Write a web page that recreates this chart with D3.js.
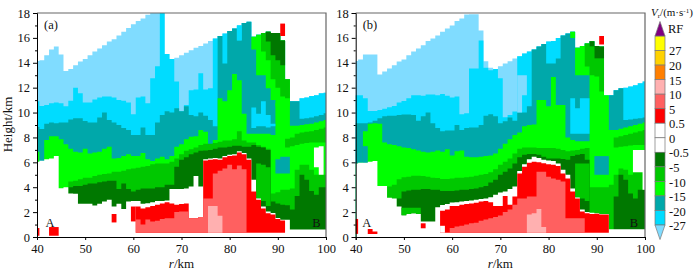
<!DOCTYPE html>
<html lang="en">
<head>
  <meta charset="UTF-8">
  <title>Vr cross sections</title>
  <style>
    html, body { margin: 0; background: #fff; }
    text { font-family: "Liberation Serif", serif; fill: #111; }
  </style>
</head>
<body>
  <script src="https://d3js.org/d3.v7.min.js"></script>
  <script>
    // every profile below runs r = 40..100 km, one value per km, heights in km
    const aTop = [14.15,14.2,14.6,15.07,15.3,14.67,13.33,13.5,13.8,14.1,
      14.3,14.6,14.9,15.15,15.4,15.7,15.9,16.2,16.5,16.8,
      17.1,17.35,17.55,17.85,18,18,18,14.7,14.3,14.4,
      14.6,14.8,15,15.2,15.35,15.55,15.75,15.95,16.15,16.35,
      16.55,16.75,17,17.2,17.3,16.1,16.25,16.4,16.5,16.4,
      16.4,15.8,12.67,10.9,10.9,11.15,11.2,11.33,11.4,11.55,11.6]
    const aCyan = [10.9,10.53,10.6,10.75,10.8,10.75,10.5,10.95,12,11.55,
      10.8,10.8,11.05,11.2,11.3,11.3,11.2,11,10.95,10.8,
      9.87,11.2,11.3,10.75,12.75,13.73,18,14.7,14.3,12.5,
      10.1,10.6,11.8,11.85,13.15,11.85,11.95,15.95,16.15,16.35,
      16.55,16.75,17,17.2,17.3,16.1,16.25,16.4,16.5,16.4,
      16.4,15.8,12.67,10.9,10.9,11.15,11.2,11.33,11.4,11.55,11.6]
    const aTeal = [8.83,8.67,9.1,9.2,9.15,9.2,9.2,9.45,9.55,9.55,
      9.33,9.2,9.2,9.6,10,9.4,9.2,9,8.75,8.6,
      8.2,8.2,8.8,8.2,8.2,9.2,9.8,10.1,10,10.35,
      10.1,10.5,9.8,9.7,10,9.75,9.4,8.9,16.15,13.95,
      16.55,16.75,15.8,17.2,17.3,16.1,16.25,16.4,16.5,16.4,
      16.4,15.8,12.67,10.9,10.9,9.5,9.55,9.6,9.7,9.8,9.95]
    const aLime = [6.85,6.05,7.8,8.1,8.1,7.85,7.45,7.1,6.85,6.8,
      7.1,6.7,6.8,6.85,7.1,7.25,6.3,6.35,6.5,6.65,
      6.5,6.5,6.75,6.25,6.1,6.3,6.45,6.25,6.5,7.25,
      7.45,7.85,8.05,8.1,8.6,8.45,7.4,7.8,11.15,10.9,
      11.8,13.1,12.6,9.9,8.3,8.3,8.3,8.3,8.3,8.2,
      10.75,11,11.1,8.93,8.93,9,9.07,9.1,9.2,9.3,9.4]
    const aGreen = [0,0,0,0,0,0,0,4.45,4.53,4.65,
      4.77,4.77,4.9,5,5.07,5.1,5.25,5.25,5.33,5.45,
      5.5,5.57,5.65,5.7,5.85,5.9,5.9,5.9,6.05,6.3,
      6.65,6.93,7.05,7.2,7.4,7.5,7.5,7.55,7.65,7.75,
      7.75,7.85,8.5,7.75,7.6,7.6,7.4,7.25,7.1,3.5,
      3.6,3.8,3.8,3.9,5.4,5.8,5.8,5.4,5,5.1,5]
    const aDark = [0,0,0,0,0,0,0,4,4.1,4.1,
      4.2,4.3,4.3,4.4,4.45,4.53,4.53,3.85,4.3,3.85,
      3.65,3.8,3.9,3.9,3.9,4,4,4.2,4.2,5.65,
      6.2,6.4,6.65,6.8,6.93,6.95,7,7.1,7.2,7.2,
      7.25,7.33,7.33,7.25,7.25,7.4,7.25,7.2,7,2.85,
      2.7,2.6,2.55,2.2,3.3,5,4.6,3.7,3.4,4,4]
    const aGap = [6.05,6.13,6.25,6.3,6.5,3.92,4,3.5,3.47,2.67,
      2.67,2.67,2.53,2.67,2.85,3,2.45,2.67,2.25,2.85,
      2.9,2.9,2.67,2.72,2.8,2.9,2.9,2.93,3.85,3.85,
      3.85,3.9,4.05,4.9,4.05,6.25,6.3,6.35,6.3,6.5,
      6.6,6.65,6.9,6.75,6.3,4.6,3.12,2.45,2.05,1.92,
      1.52,1.39,1.39,0.6,0.6,0.6,0.6,0.6,0.6,0.6,0.6]

    const bTop = [14.15,14.27,14.67,14.67,14.67,13.05,13.3,13.55,13.8,14.1,
      14.27,14.6,14.9,15.15,15.4,15.75,15.95,16.2,16.5,16.75,
      17,17.35,17.55,17.87,17.9,17.9,16.6,14.13,13.6,13.5,
      13.73,13.95,14.13,14.35,14.53,14.75,14.9,15.07,15.3,15.5,
      15.7,15.75,16,16.2,16.35,16.5,15.2,15.35,15.55,15.73,
      15.35,15.3,11.4,11.4,11.8,11.95,12,12.1,12.2,12.35,12.5]
    const bCyan = [11.4,11.4,11.15,10.13,10.13,10.2,10.3,10.43,10.53,10.8,
      10.93,11.15,11.4,11.4,11.35,11.45,11.45,11.4,11.5,11.35,
      11.2,11.3,9.87,9.95,13.55,13.55,15.8,13.6,13.4,13.5,
      12.75,9.63,9.8,10.08,14.53,14.75,14.9,15.07,15.3,15.5,
      15.7,15.75,16,16.2,16.35,16.5,15.2,15.35,15.55,15.73,
      15.35,15.3,11.4,11.4,11.8,11.95,12,12.1,12.2,12.35,12.5]
    const bTeal = [9.15,9.15,9.15,9.2,9.35,9.55,9.7,9.75,9.75,9.8,
      9.85,9.85,9.8,9.35,9.7,10,9.15,8.75,8.5,8.55,
      8.55,9,8.6,8.75,8.8,8.8,9,9.75,9.87,9.7,
      9.15,9.3,9.6,9.35,10,10,10.5,15.07,15.3,15.5,
      13.95,13.95,14.35,16.2,16.35,16.5,15.2,15.35,15.55,15.73,
      11,11,11,11.4,11.8,11.95,9.4,9.45,9.5,9.55,9.6]
    const bLime = [5.9,5.97,8.5,9.1,9.15,9.1,7.6,7.45,7.4,7.3,
      7.2,7.15,7.05,6.95,6.85,6.8,6.85,6.95,6.85,7.05,
      6.55,6.9,6.95,6.45,6.4,6.4,6.45,6.5,6.55,6.7,
      7.1,7.5,7.85,8.2,8.4,8.9,9,9.05,11,11,
      10.5,12.85,10.6,10.6,8,7.8,7.7,7.7,7.7,15.73,
      15.35,15.3,11.4,8.6,8.6,8.7,8.8,8.9,9,9.1,9.2]
    const bGreen = [0,0,0,0,0,0,0,4.05,4.2,4.65,
      4.8,4.85,4.93,4.93,4.9,4.85,4.77,4.75,4.67,4.67,
      4.7,4.77,4.77,4.8,4.85,4.93,5,5.07,5.2,5.45,
      5.8,6.05,6.3,6.7,7.1,7.2,7.2,7.2,7.15,7.15,
      7.15,7.15,7.1,7,6.9,6.95,7,7.1,7.15,4,
      4,4,4,4.2,5,5.5,5.4,5,5.2,5.2,3.8]
    const bDark = [0,0,0,0,0,0,0,0,0,3.1,
      3.65,3.73,3.8,3.8,3.85,3.85,3.8,3.8,3.7,3.7,
      3.7,3.73,3.8,3.8,3.85,3.9,4,4.1,4.37,4.6,
      5,5.25,5.5,5.9,6.4,6.6,6.67,6.67,6.6,6.45,
      6.3,6.3,6.3,6.27,6.2,6.5,6.6,6.67,6.2,0,
      0,0,0,0,3.25,5,4.6,3.5,3.1,3.8,3.8]
    const bGap = [5.9,5.97,6,6.05,6.1,4.1,4.1,3.15,3.1,2.45,
      1.75,1.85,1.9,1.85,1.25,1.25,1.25,2.4,2.57,2.65,
      2.77,2.8,2.85,2.9,2.93,3,3.05,3.1,3.2,3.4,
      3.57,3.65,3.85,4.05,5.3,5.85,6.25,6.45,6.35,6.2,
      6.15,6.1,5.9,5.4,5,3.9,3.2,2.2,2,1.95,
      1.9,1.85,1.85,0.62,0.62,0.62,0.62,0.62,0.62,0.62,0.62]

    // [colour level, first r, tops, bottoms], painted in order over the profiles
    const aPatches = [
      ['cyan', 82, [17], [15.8]],
      ['cyan', 85, [10.4,9.9,10.9,9.8,9.1], [8.75,8.9,8.9,8.8,8.9]],
      ['lime', 85, [16.1,16.25,16.4,16.5,16.4,16.4,15.8,12.67], [15.07,13,13,11.95,11,10.5,10.5,10.5]],
      ['green', 87, [16.4,16.5,16.4,16.4,15.8,12.67], [14.9,14.2,12.67,12,11.3,11.15]],
      ['dark', 88, [16.5,16.4,16.4,15.8], [15.7,14.6,14.2,13.8]],
      ['red', 91, [17.15], [16.15]],
      ['teal', 90, [6.25,6.45,6.45], [5.1,5.1,5.1]],
      ['green', 86, [5.9,5.8,5.6], [3.12,2.9,2.5]],
      ['green', 92, [7.9,8,8.3,8.4,8.45,8.5,8.6,8.7,8.8], [7.2,7.3,7.4,7.5,7.55,7.6,7.6,7.6,7.6]],
      ['white', 98, [7.2,7.3], [5.6,5]],
      ['red', 40, [0.72], [0.1]],
      ['red', 43, [0.8,0.8], [0.1,0.1]],
      ['red', 56, [1.85], [1.17]],
      ['red', 60, [2.45], [1.25]],
      ['red', 61, [2.45,2.3,2.4,2.5,2.6,2.7,2.8,2.7,2.6,2.65,2.7,1.5,1.5,1.6,6.15,6.2,6.25,6.2,6.4,6.5,6.55,6.8,6.65,6.2,3.65,3,2.3,1.9,1.8,1.44,1.33], 0.35],
      ['salmon', 61, [1.4,1,1.4,1.25,1.3,1.45,1.5,1.5,2,2.05,2.05,1.5,1.5,1.6,3.1,3.1,5.1,5.33,5.5,5.8,5.45,5.75,5.45], 0.35],
      ['pink', 76, [2.5,2.5,1.7], 0.35]
    ]
    const bPatches = [
      ['sky', 74, [13,13], [10,11.4]],
      ['cyan', 85, [11.15,10.35,11.15,11.15], [8.3,8.3,8.3,8.3]],
      ['lime', 85, [16.5,15.2,15.35,15.55], [16,13,13,13]],
      ['green', 88, [15.55,15.3,14.35,14.35], [13.7,13,12.9,11.7]],
      ['dark', 89, [15.73,15.35,15.3], [15.3,14.35,14.35]],
      ['red', 91, [16.15], [15.47]],
      ['teal', 42, [7.3], [5.97]],
      ['teal', 90, [6.5,6.5,6.5], [5,5,5]],
      ['green', 50, [2.35,2.35,2.35,2.35], [1.75,1.85,1.9,1.85]],
      ['green', 86, [5.9,5.9,5.9], [3.2,3.1,2.9]],
      ['green', 94, [8,8.1,8.2,8.3,8.4,8.5,8.6], [7.2,7.25,7.3,7.35,7.4,7.4,7.4]],
      ['white', 98, [7,7,7], [5.2,5.2,3.8]],
      ['red', 40, [1.45], [0.25]],
      ['red', 43, [0.65,0.45], [0.25,0.25]],
      ['red', 54, [1.1], [0.7]],
      ['red', 58, [2.1,2.2,2.5,2.5,2.6,2.65,2.7,2.75,2.85,2.9,2.8,2.5,2.5,3.3,2.6,3.25,5.1,5.65,5.97,6.05,6,5.92,5.85,5.8,5.7,5.1,4.7,3.65,3.1,2.05,1.9,1.85,1.87,1.8,1.8], 0.35],
      ['white', 58, [0.9], [0.35]],
      ['salmon', 60, [0.72,0.85,0.9,1,1.1,1.15,1.3,1.4,1.5,1.6,1.73,2,2.2,2.6,3.1,3.1,3.25,3.25,5.25,5.25,4.85,4.7,4.6,4.45,1.5,1.5,1.5,1.5], 0.35],
      ['pink', 76, [1.8,1.9,2.25,0.8], 0.35]
    ]

    const barLevels = ['yellow','gold','orange','pink','salmon','red','white1','white2','dark','green','lime','teal','cyan']
    const barTicks = ['27','20','15','10','5','0.5','0','-0.5','-5','-10','-15','-20','-27']
    const xTicks = [40,50,60,70,80,90,100]
    const yTicks = [0,2,4,6,8,10,12,14,16,18]
    const yMinor = [1,3,5,7,9,11,13,15,17]
    const rStart = 40

    const colors = {
      sky: '#80dcff', cyan: '#00dcff', teal: '#00a8aa', lime: '#00ff00', green: '#00c800', dark: '#007800',
      white: '#ffffff', red: '#ff0000', salmon: '#ff6060', pink: '#ffb0b0', orange: '#ff7f00', gold: '#ffd200', yellow: '#ffff00'
    }

    const width = 700
    const height = 272
    const svg = d3.select('body').append('svg')
      .attr('width', width)
      .attr('height', height)
      .style('display', 'block')

    const y = d3.scaleLinear().domain([0, 18]).range([237, 13])

    // one km wide columns centred on each r, clipped at the frame
    const columns = (r0, tops, lows) => tops.flatMap((t, i) => {
      const r = r0 + i
      const low = Array.isArray(lows) ? lows[i] : lows
      return [
        { r: Math.max(r - 0.5, 40), t, low },
        { r: Math.min(r + 0.5, 100), t, low }
      ]
    })

    function panel(left, right, name, layers, patches, labelA, labelB) {
      const x = d3.scaleLinear().domain([40, 100]).range([left, right])
      const g = svg.append('g')
      const area = d3.area().x(d => x(d.r)).y0(d => y(d.low)).y1(d => y(d.t))

      const paint = (level, r0, tops, lows) => g.append('path')
        .attr('d', area(columns(r0, tops, lows)))
        .attr('fill', colors[level])

      layers.forEach(([level, tops]) => paint(level, rStart, tops, 0))
      patches.forEach(([level, r0, tops, lows]) => paint(level, r0, tops, lows))

      // frame: grey on top and right, dark on the axes
      g.append('path')
        .attr('d', `M${left},${y(18)}H${right}V${y(0)}`)
        .attr('fill', 'none')
        .attr('stroke', '#666')
        .attr('stroke-width', 1.2)

      const xAxis = svg.append('g')
        .attr('transform', `translate(0,${y(0)})`)
        .call(d3.axisBottom(x).tickValues(xTicks).tickFormat(d3.format('d')).tickSize(3).tickPadding(4))
      const yAxis = svg.append('g')
        .attr('transform', `translate(${left},0)`)
        .call(d3.axisLeft(y).tickValues(yTicks).tickSize(4).tickPadding(3))
      svg.append('g')
        .attr('transform', `translate(${left},0)`)
        .call(d3.axisLeft(y).tickValues(yMinor).tickSize(2).tickFormat(''))
        .select('.domain').remove()
      xAxis.selectAll('text').attr('font-size', 12.5)
      yAxis.selectAll('text').attr('font-size', 12.5)

      svg.append('text').attr('x', left + 7).attr('y', 29).attr('font-size', 12.5).text(name)
      svg.append('text').attr('x', x(labelA)).attr('y', y(0.8)).attr('font-size', 12.5).attr('text-anchor', 'middle').text('A')
      svg.append('text').attr('x', x(labelB)).attr('y', y(0.8)).attr('font-size', 12.5).attr('text-anchor', 'middle').text('B')

      const rLabel = svg.append('text')
        .attr('x', x(70))
        .attr('y', 268)
        .attr('font-size', 13)
        .attr('text-anchor', 'middle')
      rLabel.append('tspan').attr('font-style', 'italic').text('r')
      rLabel.append('tspan').text('/km')
    }

    panel(37, 326, '(a)',
      [['sky', aTop], ['cyan', aCyan], ['teal', aTeal], ['lime', aLime], ['green', aGreen], ['dark', aDark], ['white', aGap]],
      aPatches, 42.7, 98)
    panel(355.7, 645, '(b)',
      [['sky', bTop], ['cyan', bCyan], ['teal', bTeal], ['lime', bLime], ['green', bGreen], ['dark', bDark], ['white', bGap]],
      bPatches, 42.3, 97.7)

    svg.append('text')
      .attr('transform', `translate(12,124.5) rotate(-90)`)
      .attr('font-size', 13)
      .attr('text-anchor', 'middle')
      .text('Height/km')

    // colour bar
    const barY = d3.scaleBand().domain(barLevels).range([36, 225])
    const barLeft = 655
    const barRight = 665
    const tip = barY.bandwidth()

    svg.append('g').selectAll('rect')
      .data(barLevels)
      .join('rect')
      .attr('x', barLeft)
      .attr('y', d => barY(d))
      .attr('width', barRight - barLeft)
      .attr('height', barY.bandwidth())
      .attr('fill', d => colors[d.replace(/[0-9]/g, '')])
      .attr('stroke', '#777')
      .attr('stroke-width', 0.7)

    const barMid = (barLeft + barRight) / 2
    svg.append('path')
      .attr('d', `M${barLeft},36L${barMid},${36 - tip}L${barRight},36Z`)
      .attr('fill', '#800080')
      .attr('stroke', '#777')
      .attr('stroke-width', 0.7)
    svg.append('path')
      .attr('d', `M${barLeft},225L${barMid},${225 + tip}L${barRight},225Z`)
      .attr('fill', colors.sky)
      .attr('stroke', '#777')
      .attr('stroke-width', 0.7)

    const labelY = d3.scalePoint().domain(barTicks).range([51, 226])
    svg.append('g').selectAll('text')
      .data(barTicks)
      .join('text')
      .attr('x', 669)
      .attr('y', d => labelY(d))
      .attr('dy', '0.35em')
      .attr('font-size', 12.5)
      .text(d => d)
    svg.append('text').attr('x', 668).attr('y', 29).attr('dy', '0.35em').attr('font-size', 12.5).text('RF')

    const title = svg.append('text').attr('x', 651).attr('y', 16).attr('font-size', 11)
    title.append('tspan').attr('font-style', 'italic').text('V')
    title.append('tspan').attr('font-size', 7).attr('dy', 2).text('r')
    title.append('tspan').attr('dy', -2).text('/(m·s')
    title.append('tspan').attr('font-size', 7).attr('dy', -3).text('-1')
    title.append('tspan').attr('dy', 3).text(')')
  </script>
</body>
</html>
